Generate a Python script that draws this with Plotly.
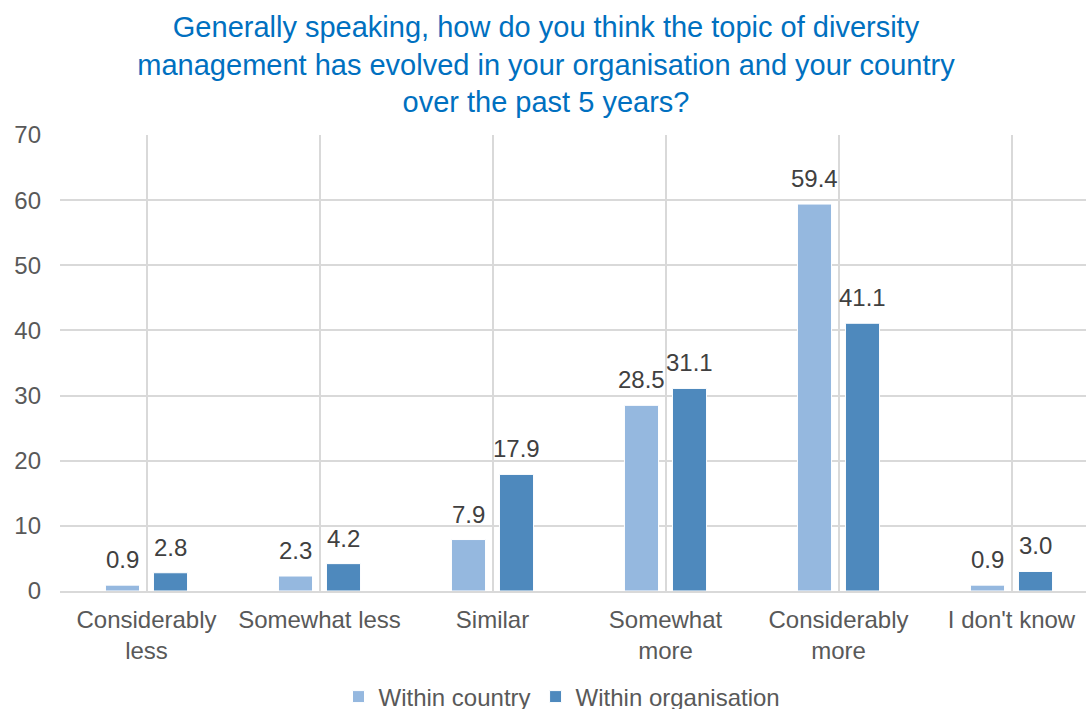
import plotly.graph_objects as go

categories = ["Considerably<br>less", "Somewhat less", "Similar", "Somewhat<br>more", "Considerably<br>more", "I don't know"]
within_country = [0.9, 2.3, 7.9, 28.5, 59.4, 0.9]
within_org = [2.8, 4.2, 17.9, 31.1, 41.1, 3.0]
series_names = ["Within country", "Within organisation"]
series_colors = ["#95B8DF", "#4E89BD"]

title_text = ("Generally speaking, how do you think the topic of diversity<br>"
              "management has evolved in your organisation and your country<br>"
              "over the past 5 years?")

FONT = "Liberation Sans, Arial, sans-serif"
xpos = list(range(len(categories)))

fig = go.Figure()
annotations = []
for j, (name, vals, col) in enumerate(zip(series_names, [within_country, within_org], series_colors)):
    fig.add_trace(go.Bar(
        name=name, x=xpos, y=vals,
        marker=dict(color=col, line=dict(color="white", width=1)),
    ))
    for i, v in enumerate(vals):
        annotations.append(dict(
            x=xpos[i], y=v, xref="x", yref="y", text=f"{v:.1f}", showarrow=False,
            xanchor="center", yanchor="bottom", xshift=-24 if j == 0 else 24, yshift=10,
            font=dict(size=24, color="#404040", family=FONT),
        ))

fig.update_layout(
    width=1086, height=709,
    margin=dict(l=60, r=0, t=135, b=118),
    paper_bgcolor="white", plot_bgcolor="white",
    font=dict(family=FONT, size=24, color="#595959"),
    barmode="group", bargap=0.445, bargroupgap=0.29,
    title=dict(text=title_text, font=dict(size=29, color="#0070C0", family=FONT),
               x=546 / 1086, xanchor="center", xref="container",
               y=1 - 37 / 709, yanchor="top", yref="container"),
    legend=dict(orientation="h", xanchor="center", x=562 / 1086, xref="container",
                yanchor="middle", y=1 - 697 / 709, yref="container",
                font=dict(size=24, color="#595959"), itemwidth=30,
                traceorder="normal"),
    showlegend=True,
    annotations=annotations,
)
fig.update_xaxes(
    tickmode="array", tickvals=xpos, ticktext=categories,
    range=[-0.5, 5.5 - 12 / 173], tickson="boundaries", showgrid=True,
    gridcolor="#D9D9D9", gridwidth=1.5, ticks="", showline=True, linecolor="#D9D9D9",
    linewidth=1.5, tickfont=dict(size=24, color="#595959"), zeroline=False,
    ticklabelstandoff=6,
)
fig.update_yaxes(
    range=[0, 70], dtick=10, showgrid=True, gridcolor="#D9D9D9", gridwidth=1.5,
    zeroline=False, tickfont=dict(size=24, color="#595959"), ticks="",
    showline=False, ticklabelstandoff=18,
)

fig.write_html("out.html")
